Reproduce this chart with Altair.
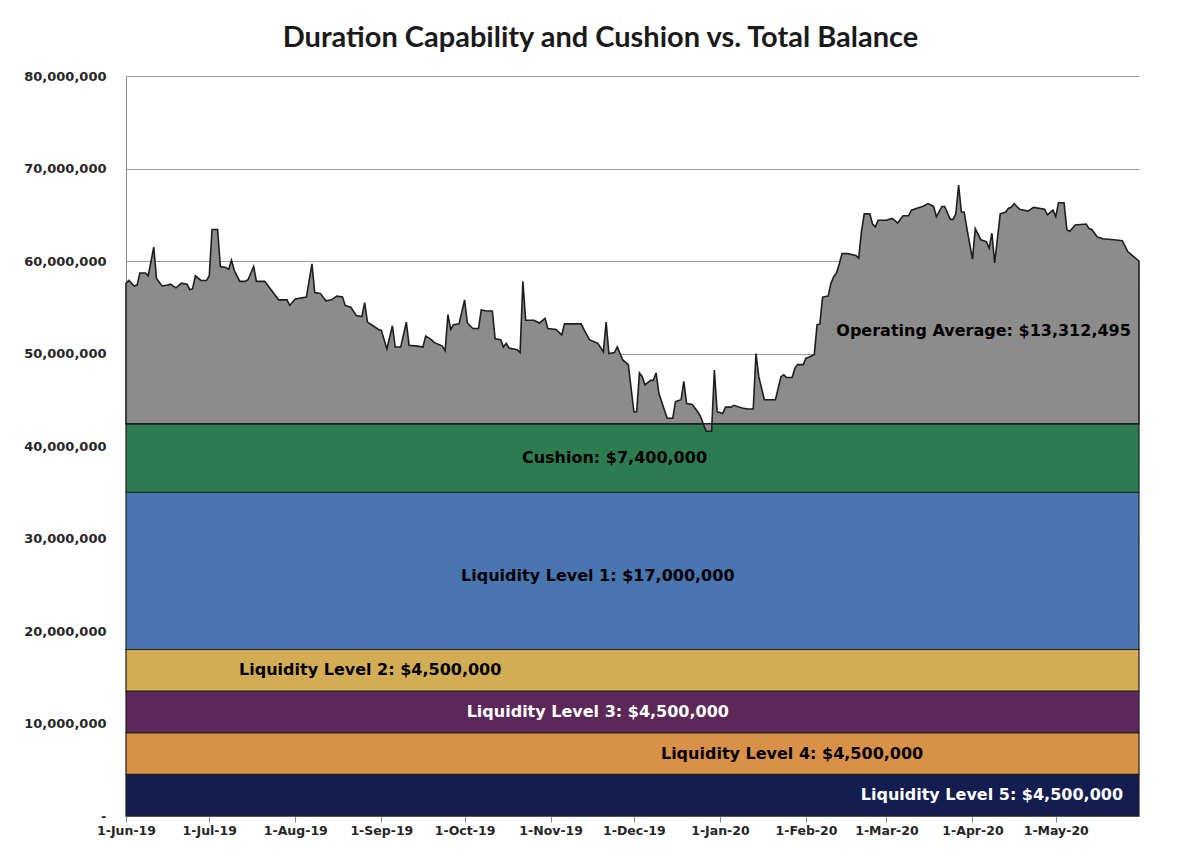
import altair as alt
import pandas as pd

# ---- data ----
# day offsets from 1-Jun-2019 and total balance in millions
days = [0, 1, 3, 4, 5, 7, 8, 10, 11, 13, 15, 16, 18, 20, 22, 23, 24, 25, 27, 29,
        30, 31, 33, 34, 36, 37, 38, 39, 41, 43, 44, 46, 47, 50, 52, 55, 58, 59, 61, 65,
        67, 68, 70, 72, 74, 76, 78, 79, 81, 83, 85, 86, 87, 89, 91, 92, 94, 96, 97, 99,
        101, 102, 105, 107, 108, 110, 111, 114, 115, 116, 117, 118, 120, 122, 123, 125, 127, 128, 130, 132,
        133, 135, 136, 137, 138, 141, 142, 143, 144, 147, 149, 151, 152, 155, 157, 158, 164, 165, 167, 170,
        172, 173, 174, 176, 177, 179, 181, 183, 184, 185, 186, 187, 189, 190, 191, 192, 194, 195, 197, 198,
        200, 201, 202, 204, 206, 207, 209, 211, 212, 213, 215, 216, 218, 219, 222, 224, 226, 227, 228, 230,
        234, 236, 237, 238, 240, 241, 242, 244, 245, 246, 248, 249, 250, 251, 253, 254, 255, 256, 257, 258,
        260, 263, 264, 265, 266, 268, 269, 270, 271, 274, 276, 277, 278, 280, 282, 283, 285, 287, 289, 291,
        292, 294, 295, 297, 298, 299, 300, 301, 302, 303, 305, 306, 308, 310, 311, 312, 313, 315, 317, 318,
        319, 320, 322, 325, 327, 331, 332, 334, 335, 336, 338, 339, 340, 342, 346, 347, 348, 350, 352, 356,
        359, 361, 363, 365]
balance_m = [57.6, 57.9, 57.3, 57.4, 58.7, 58.7, 58.4, 61.5, 58.1, 57.3, 57.4, 57.5, 57.1, 57.6, 57.5, 56.9, 57.0, 58.4, 57.9, 57.9,
             58.4, 63.4, 63.4, 59.4, 59.3, 59.1, 60.1, 59.0, 57.8, 57.8, 58.0, 59.4, 57.8, 57.8, 57.0, 55.8, 55.8, 55.2, 55.9, 56.1,
             59.7, 56.6, 56.5, 55.7, 55.8, 56.2, 56.1, 55.2, 55.0, 54.1, 54.0, 55.5, 53.4, 53.0, 52.6, 52.5, 50.5, 53.0, 50.7, 50.7,
             53.4, 50.9, 50.8, 50.7, 51.9, 51.5, 51.2, 50.8, 50.3, 54.2, 52.6, 53.1, 53.2, 55.8, 53.3, 52.7, 52.7, 54.7, 54.6, 54.6,
             51.6, 51.5, 50.7, 51.1, 50.6, 50.4, 50.1, 57.8, 53.6, 53.6, 53.3, 53.8, 52.7, 52.6, 52.0, 53.2, 53.2, 52.6, 51.5, 51.1,
             50.2, 53.4, 50.0, 50.1, 50.7, 49.3, 48.8, 43.7, 43.7, 47.9, 47.5, 46.6, 47.1, 47.1, 47.9, 45.7, 43.9, 43.0, 43.0, 44.8,
             45.0, 47.0, 44.6, 44.5, 43.7, 43.2, 41.6, 41.6, 48.2, 43.7, 43.5, 44.2, 44.2, 44.4, 44.1, 44.0, 44.0, 50.0, 47.5, 45.0,
             45.0, 47.5, 47.7, 47.4, 47.4, 48.4, 48.8, 48.8, 49.5, 49.6, 49.9, 53.1, 53.2, 56.1, 56.2, 57.6, 58.3, 58.7, 59.7, 60.8,
             60.8, 60.6, 60.3, 63.2, 65.1, 65.1, 64.0, 63.7, 64.4, 64.4, 64.6, 64.4, 64.1, 64.9, 64.9, 65.5, 65.7, 65.9, 66.2, 65.9,
             64.8, 65.9, 65.9, 64.5, 64.5, 65.1, 68.2, 65.3, 65.3, 63.5, 60.2, 63.5, 62.3, 62.1, 61.4, 63.0, 59.8, 65.1, 65.3, 65.7,
             65.8, 66.2, 65.6, 65.4, 65.8, 65.6, 65.0, 65.5, 64.8, 66.3, 66.3, 63.4, 63.2, 63.9, 64.0, 63.5, 63.4, 62.6, 62.4, 62.3,
             62.2, 61.0, 60.5, 60.0]

band_names = ["Liquidity Level 5", "Liquidity Level 4", "Liquidity Level 3",
              "Liquidity Level 2", "Liquidity Level 1", "Cushion"]
band_amounts = [4_500_000, 4_500_000, 4_500_000, 4_500_000, 17_000_000, 7_400_000]
band_colors = ["#141d4f", "#d9914a", "#5b2859", "#d3ad56", "#4976b0", "#2d7c51"]
band_text_colors = ["white", "black", "white", "black", "black", "black"]
band_label_days = [312, 240, 170, 88, 170, 176]
band_label_values_m = [2.25, 6.75, 11.25, 15.75, 25.9, 38.7]

operating_label = "Operating Average: $13,312,495"
operating_day = 309
operating_value = 52_400_000

start = pd.Timestamp("2019-06-01")
end = pd.Timestamp("2020-05-31")


def dstr(d):
    return (start + pd.Timedelta(days=int(d))).strftime("%Y-%m-%d")


cushion_top = sum(band_amounts)

bal = pd.DataFrame({
    "date": [dstr(d) for d in days],
    "value": [v * 1e6 for v in balance_m],
    "base": cushion_top,
})

lows, ups = [], []
acc = 0
for a in band_amounts:
    lows.append(acc)
    acc += a
    ups.append(acc)

bands = pd.DataFrame({
    "name": band_names,
    "lower": lows,
    "upper": ups,
    "color": band_colors,
    "date": start.strftime("%Y-%m-%d"),
    "date_end": end.strftime("%Y-%m-%d"),
})

labels = pd.DataFrame({
    "label": [f"{n}: ${a:,}" for n, a in zip(band_names, band_amounts)] + [operating_label],
    "date": [dstr(d) for d in band_label_days] + [dstr(operating_day)],
    "value": [v * 1e6 for v in band_label_values_m] + [operating_value],
    "tcolor": band_text_colors + ["black"],
})

month_ticks = [alt.DateTime(year=2019 + (5 + i) // 12, month=(5 + i) % 12 + 1, date=1, utc=True)
               for i in range(12)]

xscale = alt.Scale(type="utc", nice=False,
                   domain=[alt.DateTime(year=2019, month=6, date=1, utc=True),
                           alt.DateTime(year=2020, month=5, date=31, utc=True)])
yscale = alt.Scale(domain=[0, 80_000_000], nice=False)

band_layer = alt.Chart(bands).mark_rect(stroke="#1f1f1f", strokeWidth=1.2).encode(
    x=alt.X("date:T", scale=xscale, title=None,
            axis=alt.Axis(values=month_ticks,
                          labelExpr="utcFormat(datum.value, '%-d-%b-%y')",
                          grid=False, ticks=True, tickSize=6, labelPadding=2,
                          labelAngle=0, domain=True, labelOverlap=False,
                          labelFontSize=12.5, labelBound=False, labelFlush=False)),
    x2="date_end:T",
    y=alt.Y("lower:Q", scale=yscale, title=None,
            axis=alt.Axis(values=list(range(0, 80_000_001, 10_000_000)),
                          labelExpr="datum.value == 0 ? '-' : format(datum.value, ',')",
                          grid=True, ticks=False, domain=True, labelPadding=20)),
    y2="upper:Q",
    color=alt.Color("color:N", scale=None),
)

area_layer = alt.Chart(bal).mark_area(
    fill="#8c8c8c", stroke="#1e1e1e", strokeWidth=1.6, interpolate="linear", opacity=1
).encode(
    x=alt.X("date:T", title=None),
    y=alt.Y("value:Q", title=None),
    y2="base:Q",
)

text_layer = alt.Chart(labels).mark_text(
    font="DejaVu Sans", fontWeight="bold", fontSize=16, baseline="middle", align="center"
).encode(
    x=alt.X("date:T", title=None),
    y=alt.Y("value:Q", title=None),
    text="label:N",
    color=alt.Color("tcolor:N", scale=None),
)

chart = alt.layer(band_layer, area_layer, text_layer).properties(
    width=1013,
    height=740,
    autosize=alt.AutoSizeParams(type="none"),
    padding={"left": 118, "top": 68, "right": 30, "bottom": 26},
    title=alt.Title(
        "Duration Capability and Cushion vs. Total Balance",
        font="Lato", fontSize=29, fontWeight="bold", color="#1a1a1a",
        anchor="middle", frame="group", dx=-32, dy=34, offset=22, baseline="bottom",
    ),
).configure_view(stroke=None).configure_axis(
    labelFont="DejaVu Sans", labelFontWeight="bold", labelFontSize=13,
    labelColor="#262626", gridColor="#9a9a9a", gridWidth=1,
    domainColor="#8a8a8a", tickColor="#8a8a8a",
)

chart.save("out.html", embed_options={"renderer": "svg", "actions": False})
